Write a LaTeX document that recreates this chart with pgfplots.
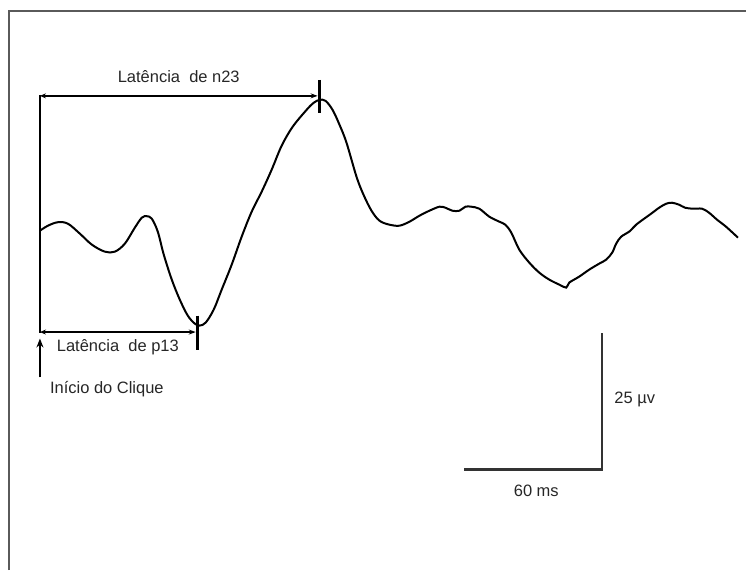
\documentclass[border=0pt]{standalone}
\usepackage{pgfplots}
\pgfplotsset{compat=1.18}
\usepackage{fontspec}
\setmainfont{Liberation Sans}
\usetikzlibrary{arrows.meta}
\definecolor{framegray}{HTML}{5A5A5A}
\definecolor{bargray}{HTML}{333333}
\newcommand{\lbl}{\fontsize{16.5}{19}\selectfont}
\begin{document}
\begin{tikzpicture}
\begin{axis}[
  x=1pt, y=1pt, scale only axis,
  xmin=0, xmax=747, ymin=0, ymax=571,
  y dir=reverse, hide axis, clip=false,
]
% bounding box
\addplot[draw=none] coordinates {(0,0) (747,571)};
% frame (top and left)
\addplot[framegray, line width=2pt] coordinates {(9.5,571) (9.5,11.5) (747,11.5)};
% waveform
\addplot[black, line width=2pt, smooth, tension=0.55] coordinates {
(40,231)(48,226)(58,222.5)(68,224)(80,234)(92,245)(105,252)(115,252)(125,244)(135,228)(142,218)(147,216.5)(152,219)(158,232)(164,255)(172,280)(180,300)(188,316)(195,324)(200,326)(206,323)(214,310)(222,290)(232,265)(242,237)(252,212)(262,192)(272,170)(282,146)(293,127)(307,110)(314,103)(320,100)(326,101)(333,110)(340,125)(347,143)(357,177)(364,195)(372,211)(380,221)(390,225)(400,226)(410,222)(420,216)(430,211)(440,207)(446,208)(453,211)(460,211)(466,207)(472,207)(480,209)(490,217)(500,222)(506,225)(512,233)(520,250)(530,263)(540,273)(550,280)(560,285)(567,288)(570,283)(580,277)(590,270)(600,264)(607,260)(613,253)(617,244)(622,237)(630,232)(637,225)(645,219)(652,214)(660,208)(667,204)(673,203)(680,205)(686,208)(694,209)(703,209)(710,213)(718,220)(727,227)(739,238)};
% vertical onset line
\addplot[black, line width=2pt] coordinates {(40,95) (40,333)};
% n23 latency arrow
\addplot[black, line width=1.5pt, {Stealth[length=6pt,width=5pt]}-{Stealth[length=7pt,width=5pt]}] coordinates {(40,96) (318,96)};
\addplot[black, line width=3pt] coordinates {(320,80) (320,113)};
% p13 latency arrow
\addplot[black, line width=1.5pt, {Stealth[length=6pt,width=5pt]}-{Stealth[length=7pt,width=5pt]}] coordinates {(40,332.5) (196,332.5)};
\addplot[black, line width=3pt] coordinates {(198,316) (198,350)};
% onset arrow
\addplot[black, line width=1.5pt, -{Stealth[length=9pt,width=7pt]}] coordinates {(40,378) (40,339)};
% scale bar
\addplot[bargray, line width=2.5pt] coordinates {(465,470) (603,470) (603,333)};
% labels
\node[font=\lbl, text=black!85, inner sep=0pt] at (axis cs:179,77) {Latência\ \ de n23};
\node[font=\lbl, text=black!85, inner sep=0pt] at (axis cs:118,348) {Latência\ \ de p13};
\node[font=\lbl, text=black!85, inner sep=0pt] at (axis cs:107,390) {Início do Clique};
\node[font=\lbl, text=black!85, inner sep=0pt, anchor=west] at (axis cs:615,400) {25 µv};
\node[font=\lbl, text=black!85, inner sep=0pt] at (axis cs:537,491) {60 ms};
\end{axis}
\end{tikzpicture}
\end{document}
